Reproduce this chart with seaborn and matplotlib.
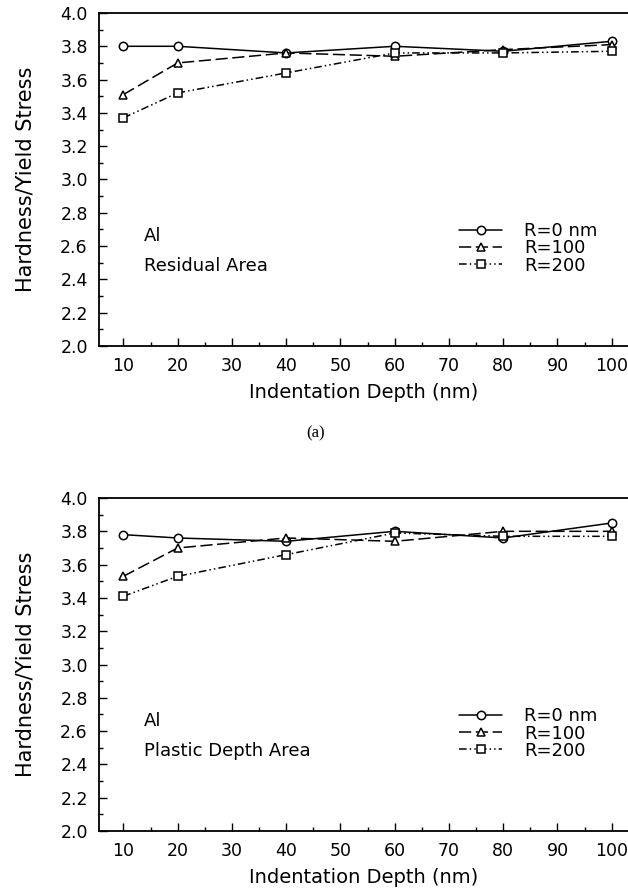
import numpy as np
import pandas as pd
import seaborn as sns
import matplotlib.pyplot as plt
from matplotlib.ticker import MultipleLocator

sns.set_style("ticks")
plt.rcParams['font.family'] = ['DejaVu Sans']
plt.rcParams['text.color'] = 'black'
plt.rcParams['axes.labelcolor'] = 'black'
plt.rcParams['xtick.color'] = 'black'
plt.rcParams['ytick.color'] = 'black'
plt.rcParams['axes.edgecolor'] = 'black'

# indentation depth (nm)
depth = [10, 20, 40, 60, 80, 100]

# (a) residual area
res_r0 = [3.80, 3.80, 3.76, 3.80, 3.77, 3.83]
res_r100 = [3.51, 3.70, 3.76, 3.74, 3.78, 3.81]
res_r200 = [3.37, 3.52, 3.64, 3.76, 3.76, 3.77]

# (b) plastic depth area
pla_r0 = [3.78, 3.76, 3.74, 3.80, 3.76, 3.85]
pla_r100 = [3.53, 3.70, 3.76, 3.74, 3.80, 3.80]
pla_r200 = [3.41, 3.53, 3.66, 3.79, 3.77, 3.77]

labels = ["R=0 nm", "R=100", "R=200"]
markers = ["o", "^", "s"]
dashes = ["-", (0, (8, 3)), (0, (5, 2, 1, 2, 1, 2))]

fig = plt.figure(figsize=(6.28, 8.89), dpi=100)
ax1 = fig.add_axes([0.1576, 0.6108, 0.8424, 0.3746])
ax2 = fig.add_axes([0.1576, 0.0652, 0.8424, 0.3746])


def draw_panel(ax, series, name):
    for vals, lab, mk, ls in zip(series, labels, markers, dashes):
        df = pd.DataFrame({"depth": depth, "ratio": vals})
        sns.lineplot(data=df, x="depth", y="ratio", ax=ax, color="black",
                     marker=mk, markersize=6, markerfacecolor="white",
                     markeredgecolor="black", markeredgewidth=1.1,
                     linestyle=ls, linewidth=1.1, label=lab)
    ax.set_xlim(5.5, 103)
    ax.set_ylim(2.0, 4.0)
    ax.xaxis.set_major_locator(MultipleLocator(10))
    ax.xaxis.set_minor_locator(MultipleLocator(5))
    ax.yaxis.set_major_locator(MultipleLocator(0.2))
    ax.yaxis.set_minor_locator(MultipleLocator(0.1))
    ax.tick_params(which="major", direction="in", length=6, width=1, labelsize=12.5, pad=8)
    ax.tick_params(which="minor", direction="in", length=3, width=1)
    ax.yaxis.set_major_formatter(plt.FuncFormatter(lambda v, p: f"{v:.1f}"))
    ax.spines["right"].set_visible(False)
    for s in ["left", "bottom", "top"]:
        ax.spines[s].set_linewidth(1.3)
    ax.set_xlabel("Indentation Depth (nm)", fontsize=14, labelpad=6)
    ax.set_ylabel("Hardness/Yield Stress", fontsize=15, labelpad=18)
    ax.text(0.085, 0.33, "Al", transform=ax.transAxes, fontsize=13, va="center")
    ax.text(0.085, 0.24, name, transform=ax.transAxes, fontsize=13, va="center")
    ax.legend(loc="upper left", bbox_to_anchor=(0.65, 0.42), frameon=False,
              fontsize=13, handlelength=2.4, labelspacing=-0.05, handletextpad=1.2)


draw_panel(ax1, [res_r0, res_r100, res_r200], "Residual Area")
draw_panel(ax2, [pla_r0, pla_r100, pla_r200], "Plastic Depth Area")

fig.text(0.502, 0.513, "(a)", ha="center", va="center", fontsize=12,
         family=["Liberation Serif"])

fig.savefig("out.png", dpi=100)
